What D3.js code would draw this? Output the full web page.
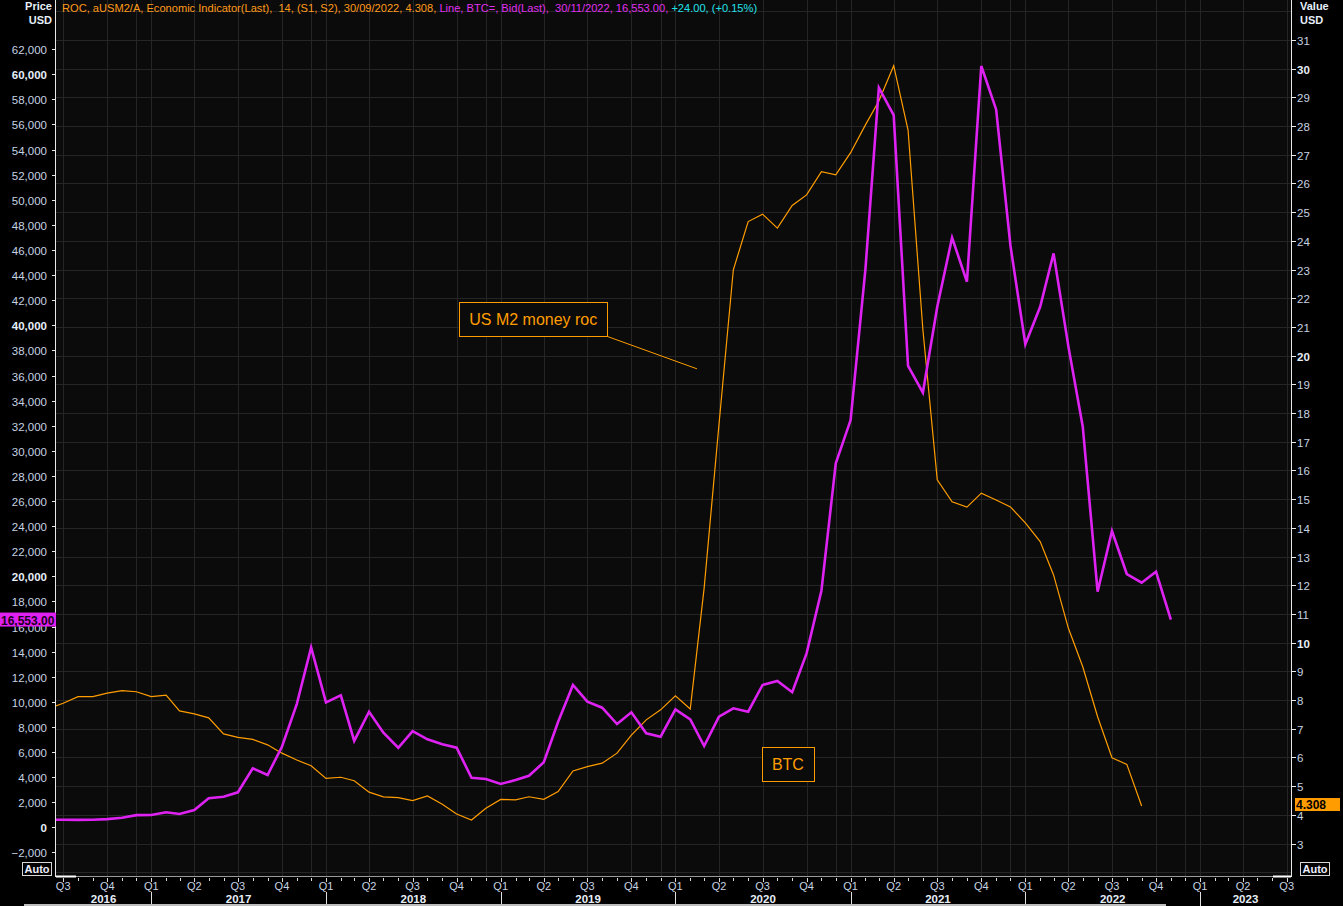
<!DOCTYPE html>
<html><head><meta charset="utf-8">
<script src="https://cdn.jsdelivr.net/npm/d3@7"></script>
<style>
html,body{margin:0;padding:0;background:#000;}
svg{display:block;}
text{font-family:"Liberation Sans",Arial,sans-serif;}
</style></head>
<body><svg id="c" width="1343" height="906"></svg>
<script>
// ---- data ----
const btcStart = "2016-06";
const btcValues = [
  610, 600, 590, 600, 650, 760, 970,
  980, 1195, 1060, 1380, 2310, 2440, 2790, 4700, 4170, 6420, 9820, 14340,
  9960, 10520, 6880, 9210, 7540, 6340, 7670, 7010, 6610, 6340, 3950, 3850,
  3450, 3770, 4110, 5180, 8410, 11340, 10010, 9530, 8230, 9160, 7490, 7220,
  9400, 8600, 6480, 8810, 9480, 9210, 11340, 11660, 10760, 13860, 18850, 29000,
  32450, 44500, 58930, 56740, 36760, 34640, 41480, 46980, 43470, 60660, 57200, 46320,
  38490, 41480, 45730, 38300, 31920, 18770, 23610, 20180, 19490, 20370, 16553
];
const rocStart = "2016-06";
const rocValues = [
  7.70, 7.89, 8.12, 8.12, 8.24, 8.33, 8.29,
  8.12, 8.17, 7.62, 7.52, 7.38, 6.82, 6.70, 6.63, 6.44, 6.15, 5.91, 5.71,
  5.27, 5.31, 5.19, 4.79, 4.63, 4.60, 4.50, 4.66, 4.37, 4.03, 3.82, 4.23,
  4.54, 4.52, 4.63, 4.54, 4.81, 5.53, 5.68, 5.80, 6.15, 6.78, 7.31, 7.66,
  8.15, 7.69, 11.9, 17.6, 22.99, 24.67, 24.93, 24.44, 25.23, 25.60, 26.41, 26.30,
  27.07, 28.04, 28.87, 30.10, 27.86, 20.9, 15.67, 14.91, 14.72, 15.21, 14.97, 14.73,
  14.17, 13.52, 12.36, 10.50, 9.16, 7.42, 5.99, 5.76, 4.308
];
const leftTicks = d3.range(-2000, 62001, 2000);
const leftBold = [0, 20000, 40000, 60000];
const rightTicks = d3.range(3, 32, 1);
const rightBold = [10, 20, 30];
const quarterLabels = ["Q1","Q2","Q3","Q4"];
const yearLabels = ["2016","2017","2018","2019","2020","2021","2022","2023"];
const headerParts = [
  {t:"ROC, aUSM2/A, Economic Indicator(Last),  14, (S1, S2), 30/09/2022, 4.308, ", c:"#ff9a1a"},
  {t:"Line, BTC=, Bid(Last),  30/11/2022, 16,553.00, ", c:"#e030f0"},
  {t:"+24.00, (+0.15%)", c:"#22e0e8"}
];
const annotations = [
  {label:"US M2 money roc", date:"2019-03-10", value:21.26, lineTo:["2020-02-15", 19.54]},
  {label:"BTC", date:"2020-08-23", value:5.77}
];
const lastBtcLabel = "16,553.00";
const lastRocLabel = "4.308";

// ---- layout ----
const W = 1343, H = 906;
const L = 56, R = 1291, T = 0, B = 876;
const svg = d3.select("#c");
const parse = d3.utcParse("%Y-%m");
const parseDay = d3.utcParse("%Y-%m-%d");
const monthSeries = (start, vals) => {
  const s = parse(start);
  return vals.map((v, i) => ({d: d3.utcMonth.offset(s, i), v}));
};
const btc = monthSeries(btcStart, btcValues);
const roc = monthSeries(rocStart, rocValues);

const x = d3.scaleUtc().domain([new Date(Date.UTC(2016,5,16)), new Date(Date.UTC(2023,6,10))]).range([L, R]);
const yL = d3.scaleLinear().domain([-3880, 65920]).range([B, T]);
const yR = d3.scaleLinear().domain([1.87, 32.39]).range([B, T]);

svg.append("rect").attr("width", W).attr("height", H).attr("fill", "#000");
// plot background with half-year bands
const plot = svg.append("g");
plot.append("rect").attr("x", L).attr("y", T).attr("width", R-L).attr("height", B-T).attr("fill", "#0b0b0b");
const bandStarts = d3.utcMonth.every(6).range(new Date(Date.UTC(2016,3,1)), new Date(Date.UTC(2023,12,1)));
bandStarts.forEach(d => {
  if (d.getUTCMonth() !== 3) return;
  const x0 = Math.max(L, x(d)), x1 = Math.min(R, x(d3.utcMonth.offset(d, 6)));
  if (x1 > x0) plot.append("rect").attr("x", x0).attr("y", T).attr("width", x1-x0).attr("height", B-T).attr("fill", "#111111");
});
// grid
const gridC = "#252525";
rightTicks.concat([2, 32]).forEach(v => {
  plot.append("line").attr("x1", L).attr("x2", R).attr("y1", Math.round(yR(v))+0.5).attr("y2", Math.round(yR(v))+0.5)
    .attr("stroke", gridC).attr("stroke-width", 1);
});
const quarters = d3.utcMonth.every(3).range(new Date(Date.UTC(2016,6,1)), new Date(Date.UTC(2023,7,1)));
const decs = d3.utcYear.range(new Date(Date.UTC(2016,0,1)), new Date(Date.UTC(2023,0,1))).map(d => new Date(Date.UTC(d.getUTCFullYear(),11,1)));
quarters.concat(decs).forEach(d => {
  const xx = Math.round(x(d)) + 0.5;
  if (xx <= L || xx >= R) return;
  plot.append("line").attr("x1", xx).attr("x2", xx).attr("y1", T).attr("y2", B).attr("stroke", gridC).attr("stroke-width", 1);
});

// clip
svg.append("clipPath").attr("id", "clip").append("rect").attr("x", L).attr("y", T).attr("width", R-L).attr("height", B-T);
const lines = svg.append("g").attr("clip-path", "url(#clip)");
lines.append("path").datum(roc)
  .attr("d", d3.line().x(d => x(d.d)).y(d => yR(d.v)))
  .attr("fill", "none").attr("stroke", "#ff9d00").attr("stroke-width", 1.2);
lines.append("path").datum(btc)
  .attr("d", d3.line().x(d => x(d.d)).y(d => yL(d.v)))
  .attr("fill", "none").attr("stroke", "#dd22f2").attr("stroke-width", 2.6).attr("stroke-linejoin", "miter");

// axes lines
svg.append("line").attr("x1", L-0.5).attr("x2", L-0.5).attr("y1", 0).attr("y2", B+1).attr("stroke", "#e8e8e8").attr("stroke-width", 1);
svg.append("line").attr("x1", R+0.5).attr("x2", R+0.5).attr("y1", 0).attr("y2", B+1).attr("stroke", "#e8e8e8").attr("stroke-width", 1);
svg.append("line").attr("x1", L).attr("x2", R).attr("y1", B+0.5).attr("y2", B+0.5).attr("stroke", "#9a9a9a").attr("stroke-width", 1);

const tickTextC = "#c6d3e3";
// left axis
const lAx = svg.append("g");
leftTicks.forEach(v => {
  const yy = Math.round(yL(v)) + 0.5;
  lAx.append("line").attr("x1", L-4).attr("x2", L).attr("y1", yy).attr("y2", yy).attr("stroke", "#e8e8e8");
  const bold = leftBold.includes(v);
  lAx.append("text").attr("x", L-9).attr("y", yy+4).attr("text-anchor", "end")
    .attr("font-size", 11.5).attr("font-weight", bold ? "bold" : "normal")
    .attr("fill", bold ? "#e6eef8" : tickTextC).text(d3.format(",")(v));
});
// right axis
const rAx = svg.append("g");
rightTicks.forEach(v => {
  const yy = Math.round(yR(v)) + 0.5;
  rAx.append("line").attr("x1", R).attr("x2", R+5).attr("y1", yy).attr("y2", yy).attr("stroke", "#e8e8e8");
  const bold = rightBold.includes(v);
  rAx.append("text").attr("x", R+6).attr("y", yy+4).attr("text-anchor", "start")
    .attr("font-size", 11.5).attr("font-weight", bold ? "bold" : "normal")
    .attr("fill", bold ? "#e6eef8" : tickTextC).text(v);
});

// bottom axis
const bAx = svg.append("g");
const months = d3.utcMonth.range(new Date(Date.UTC(2016,6,1)), new Date(Date.UTC(2023,7,1)));
months.forEach(d => {
  const xx = Math.round(x(d)) + 0.5;
  if (xx < L || xx > R) return;
  const isQ = d.getUTCMonth() % 3 === 0;
  bAx.append("line").attr("x1", xx).attr("x2", xx).attr("y1", B+2).attr("y2", B+(isQ?6:5)).attr("stroke", "#d8d8d8");
});
quarters.forEach(d => {
  const xx = x(d);
  if (xx < L - 10 || xx > R + 10) return;
  bAx.append("text").attr("x", xx).attr("y", B+14).attr("text-anchor", "middle")
    .attr("font-size", 11).attr("fill", tickTextC).text(quarterLabels[Math.floor(d.getUTCMonth()/3)]);
});
yearLabels.forEach(y => {
  const yr = +y;
  const a = Math.max(L, x(new Date(Date.UTC(yr,0,1)))), b = Math.min(R, x(new Date(Date.UTC(yr+1,0,1))));
  bAx.append("text").attr("x", (a+b)/2).attr("y", B+27).attr("text-anchor", "middle")
    .attr("font-size", 11.5).attr("font-weight", "bold").attr("fill", "#e6eef8").text(y);
  if (yr > 2016) {
    const xs = Math.round(x(new Date(Date.UTC(yr,0,1)))) + 0.5;
    bAx.append("line").attr("x1", xs).attr("x2", xs).attr("y1", B+16).attr("y2", H).attr("stroke", "#e0e0e0");
  }
});
svg.append("rect").attr("x", 24).attr("y", H-2).attr("width", 1142).attr("height", 2).attr("fill", "#bdbdbd");
svg.append("line").attr("x1", L).attr("x2", L+20).attr("y1", B+0.5).attr("y2", B+0.5).attr("stroke", "#fff").attr("stroke-width", 2);
svg.append("line").attr("x1", R-18).attr("x2", R).attr("y1", B+0.5).attr("y2", B+0.5).attr("stroke", "#fff").attr("stroke-width", 2);

// headers
const ht = svg.append("text").attr("x", 62).attr("y", 12).attr("font-size", 11.1).style("white-space", "pre");
headerParts.forEach(p => ht.append("tspan").attr("fill", p.c).text(p.t));
svg.append("text").attr("x", 52).attr("y", 10).attr("text-anchor", "end").attr("font-size", 11).attr("font-weight", "bold").attr("fill", "#e6eef8").text("Price");
svg.append("text").attr("x", 52).attr("y", 24).attr("text-anchor", "end").attr("font-size", 11).attr("font-weight", "bold").attr("fill", "#e6eef8").text("USD");
svg.append("text").attr("x", 1300).attr("y", 10).attr("font-size", 11).attr("font-weight", "bold").attr("fill", "#e6eef8").text("Value");
svg.append("text").attr("x", 1300).attr("y", 24).attr("font-size", 11).attr("font-weight", "bold").attr("fill", "#e6eef8").text("USD");

// value tags
const lastB = btc[btc.length-1], lastR = roc[roc.length-1];
svg.append("rect").attr("x", 0).attr("y", yL(lastB.v)-7).attr("width", L).attr("height", 14).attr("fill", "#e020f0");
svg.append("text").attr("x", 1).attr("y", yL(lastB.v)+5).attr("font-size", 12).attr("font-weight", "bold").attr("fill", "#1a0020").text(lastBtcLabel);
svg.append("rect").attr("x", R+4).attr("y", yR(lastR.v)-8).attr("width", 45).attr("height", 13).attr("fill", "#ff9d00");
svg.append("text").attr("x", R+5).attr("y", yR(lastR.v)+3).attr("font-size", 12).attr("font-weight", "bold").attr("fill", "#000").text(lastRocLabel);

// Auto boxes
[[22, 862], [1300, 862]].forEach(([ax, ay]) => {
  svg.append("rect").attr("x", ax+0.5).attr("y", ay+0.5).attr("width", 29).attr("height", 13).attr("fill", "#000").attr("stroke", "#d8d8d8");
  svg.append("text").attr("x", ax+15).attr("y", ay+11).attr("text-anchor", "middle").attr("font-size", 11).attr("font-weight", "bold").attr("fill", "#eef").text("Auto");
});

// annotations
const annG = svg.append("g");
annotations.forEach(a => {
  const cx = x(parseDay(a.date)), cy = yR(a.value);
  const t = annG.append("text").attr("x", cx).attr("y", cy).attr("text-anchor", "middle").attr("dominant-baseline", "central")
    .attr("font-size", 16).attr("font-family", "Roboto, 'Liberation Sans', sans-serif").attr("fill", "#ff9d00").text(a.label);
  const bb = t.node().getBBox();
  const px = 10;
  const rx = Math.round(bb.x - px) + 0.5, ry = Math.round(cy - 17) + 0.5, rw = Math.round(bb.width + 2*px), rh = 34;
  annG.insert("rect", "text").attr("x", rx).attr("y", ry).attr("width", rw).attr("height", rh).attr("fill", "#0b0b0b").attr("stroke", "#ff9d00").attr("stroke-width", 1);
  if (a.lineTo) {
    const lx = x(parseDay(a.lineTo[0])), ly = yR(a.lineTo[1]);
    annG.append("line").attr("x1", rx + rw).attr("y1", ry + rh).attr("x2", lx).attr("y2", ly).attr("stroke", "#ff9d00").attr("stroke-width", 1);
  }
});
</script></body></html>
